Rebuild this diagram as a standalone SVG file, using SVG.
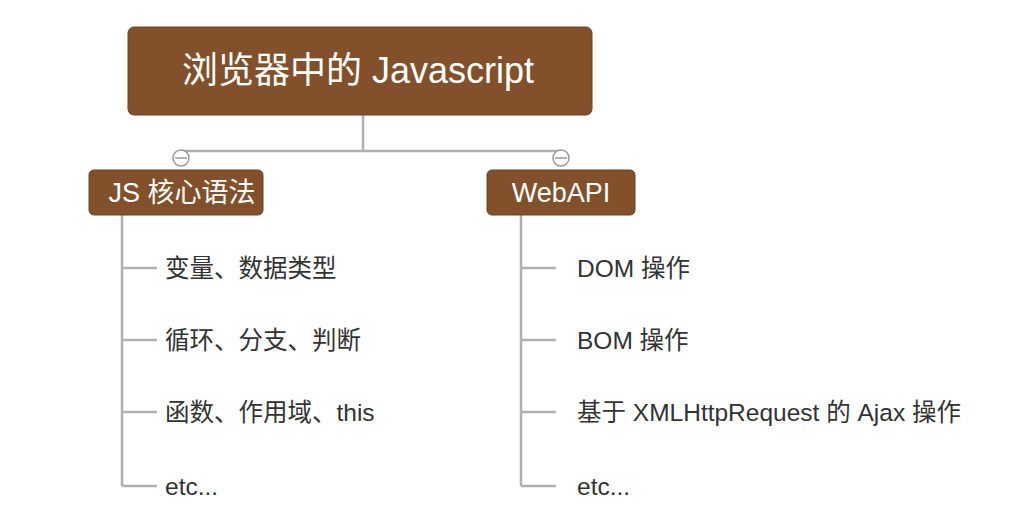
<svg xmlns="http://www.w3.org/2000/svg" width="1024" height="518" viewBox="0 0 1024 518">
<style>
.box{fill:#82512b;stroke:#6e4221;stroke-width:1}
.t{fill:#fff;font-family:"Liberation Sans","Noto Sans CJK SC",sans-serif}
.l{fill:#333;font-family:"Liberation Sans","Noto Sans CJK SC",sans-serif;font-size:24.5px}
.c{stroke:#b0b0b0;stroke-width:2.5;fill:none}
.k{stroke:#999;stroke-width:1.5;fill:#fff}
</style>
<rect width="1024" height="518" fill="#fff"/>
<g id="connectors">
<path class="c" d="M363 115V151M181 151H561"/>
<path class="c" d="M122 215V486M122 268H157M122 340H157M122 412H157M122 486H157"/>
<path class="c" d="M521 215V486M521 268H556M521 340H556M521 412H556M521 486H556"/>
<circle class="k" cx="181" cy="158" r="8"/><path d="M175 158H187" stroke="#999" stroke-width="1.5"/>
<circle class="k" cx="561" cy="158" r="8"/><path d="M555 158H567" stroke="#999" stroke-width="1.5"/>
</g>
<g id="root"><rect class="box" x="128" y="27" width="464" height="88" rx="6"/><text class="t" x="358" y="83" font-size="36" text-anchor="middle">浏览器中的 Javascript</text></g>
<g id="js"><rect class="box" x="89" y="170" width="174" height="45" rx="5"/><text class="t" x="182" y="202" font-size="27" text-anchor="middle">JS 核心语法</text></g>
<g id="webapi"><rect class="box" x="487" y="170" width="148" height="45" rx="5"/><text class="t" x="561" y="202" font-size="27" text-anchor="middle">WebAPI</text></g>
<g id="js-items">
<text class="l" x="165" y="277">变量、数据类型</text>
<text class="l" x="165" y="349">循环、分支、判断</text>
<text class="l" x="165" y="421">函数、作用域、this</text>
<text class="l" x="165" y="495">etc...</text>
</g>
<g id="web-items">
<text class="l" x="577" y="277">DOM 操作</text>
<text class="l" x="577" y="349">BOM 操作</text>
<text class="l" x="577" y="421">基于 XMLHttpRequest 的 Ajax 操作</text>
<text class="l" x="577" y="495">etc...</text>
</g>
</svg>
